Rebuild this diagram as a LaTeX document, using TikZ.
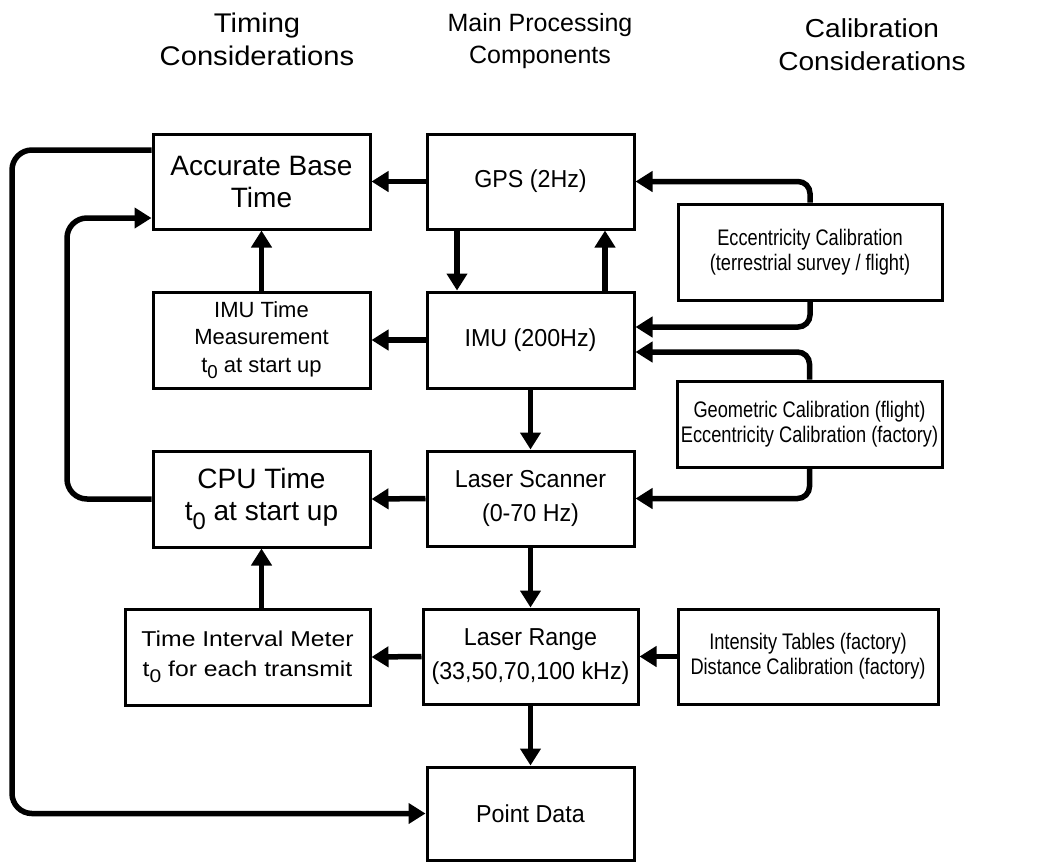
\documentclass[tikz,border=0pt]{standalone}
\usepackage{fontspec}
\setmainfont{Liberation Sans}
\newfontfamily\narrowfont[FakeStretch=0.81]{Liberation Sans}
\newfontfamily\midnarrow[FakeStretch=0.95]{Liberation Sans}
\newfontfamily\headwide[FakeStretch=1.08]{Liberation Sans}
\newfontfamily\timwide[FakeStretch=1.15]{Liberation Sans}
\usetikzlibrary{arrows.meta}
\newcommand\zsub{\raisebox{-0.3em}{\scalebox{0.85}{0}}}
\begin{document}
\begin{tikzpicture}[x=1pt,y=-1pt,
  box/.style={draw, line width=3pt, inner sep=0pt, align=center},
  big/.style={font=\fontsize{28}{32}\selectfont},
  main/.style={font=\midnarrow\fontsize{24.5}{34}\selectfont},
  mid/.style={font=\fontsize{22}{27.5}\selectfont},
  tim/.style={font=\timwide\fontsize{21.5}{30}\selectfont},
  nar/.style={font=\narrowfont\fontsize{22.5}{25}\selectfont},
  head/.style={anchor=base, inner sep=0pt},
  conn/.style={line width=5.5pt, -{Triangle[length=17pt,width=20pt]}, rounded corners=12pt},
  loop/.style={conn, rounded corners=20pt},
]
\useasboundingbox (0,0) rectangle (1060,863);
% headers
\node[head,font=\headwide\fontsize{27}{32}\selectfont] (h1a) at (257,32) {Timing};
\node[head,font=\headwide\fontsize{27}{32}\selectfont] (h1b) at (257,65) {Considerations};
\node[head,font=\fontsize{25}{32}\selectfont] (h2a) at (540,31.7) {Main Processing};
\node[head,font=\fontsize{25}{32}\selectfont] (h2b) at (540,63.3) {Components};
\node[head,font=\headwide\fontsize{26}{32}\selectfont] (h3a) at (872,37) {Calibration};
\node[head,font=\headwide\fontsize{26}{32}\selectfont] (h3b) at (872,70) {Considerations};
% left column
\node[box,big,minimum width=217pt,minimum height=95pt] (acc) at (261.5,181.5) {Accurate Base\\Time};
\node[box,mid,minimum width=217pt,minimum height=96pt] (imut) at (261.5,340) {IMU Time\\Measurement\\t\zsub{} at start up};
\node[box,big,minimum width=217pt,minimum height=96pt] (cpu) at (261.5,499) {CPU Time\\t\zsub{} at start up};
\node[box,tim,minimum width=245pt,minimum height=96pt] (timi) at (247.5,657) {Time Interval Meter\\t\zsub{} for each transmit};
% middle column
\node[box,main,minimum width=207pt,minimum height=95pt] (gps) at (530.5,181.5) {GPS (2Hz)};
\node[box,main,minimum width=207pt,minimum height=96pt] (imu) at (530.5,340) {IMU (200Hz)};
\node[box,main,minimum width=207pt,minimum height=95pt] (ls) at (530.5,498.5) {Laser Scanner\\(0-70 Hz)};
\node[box,main,minimum width=215pt,minimum height=95pt] (lr) at (530.5,656.5) {Laser Range\\(33,50,70,100 kHz)};
\node[box,main,minimum width=207pt,minimum height=93pt] (pd) at (530.5,813.5) {Point Data};
% right column
\node[box,nar,minimum width=264pt,minimum height=96pt] (ecc) at (810,252) {Eccentricity Calibration\\(terrestrial survey / flight)};
\node[box,nar,minimum width=265pt,minimum height=86pt] (geom) at (809.5,424) {Geometric Calibration (flight)\\Eccentricity Calibration (factory)};
\node[box,nar,minimum width=260pt,minimum height=95pt] (int) at (808,656.5) {Intensity Tables (factory)\\Distance Calibration (factory)};
% connectors
\draw[conn] (gps.west) -- (acc.east);
\draw[conn] (ecc.north) |- (gps.east);
\draw[conn] (ecc.south) |- ([yshift=13pt]imu.east);
\draw[conn] (geom.north) |- ([yshift=-12pt]imu.east);
\draw[conn] (geom.south) |- (ls.east);
\draw[conn] ([xshift=-73.5pt]gps.south) -- ([xshift=-73.5pt]imu.north);
\draw[conn] ([xshift=74.5pt]imu.north) -- ([xshift=74.5pt]gps.south);
\draw[conn] (imu.west) -- (imut.east);
\draw[conn] (imut.north) -- (acc.south);
\draw[conn] (imu.south) -- (ls.north);
\draw[conn] (ls.west) -- (cpu.east);
\draw[conn] (timi.north -| cpu.south) -- (cpu.south);
\draw[conn] (ls.south) -- (lr.north);
\draw[conn] (lr.west) -- (timi.east);
\draw[conn] (int.west) -- (lr.east);
\draw[conn] (lr.south) -- (pd.north);
\coordinate (accin) at ([yshift=-36.5pt]acc.west);
\coordinate (accout) at ([yshift=31.5pt]acc.west);
\coordinate (lx1) at (67,0);
\coordinate (lx2) at (12,0);
\draw[loop] (cpu.west) -| (lx1 |- accin) -- (accin);
\draw[loop] (accout) -| (lx2 |- pd.west) -- (pd.west);
\end{tikzpicture}
\end{document}
